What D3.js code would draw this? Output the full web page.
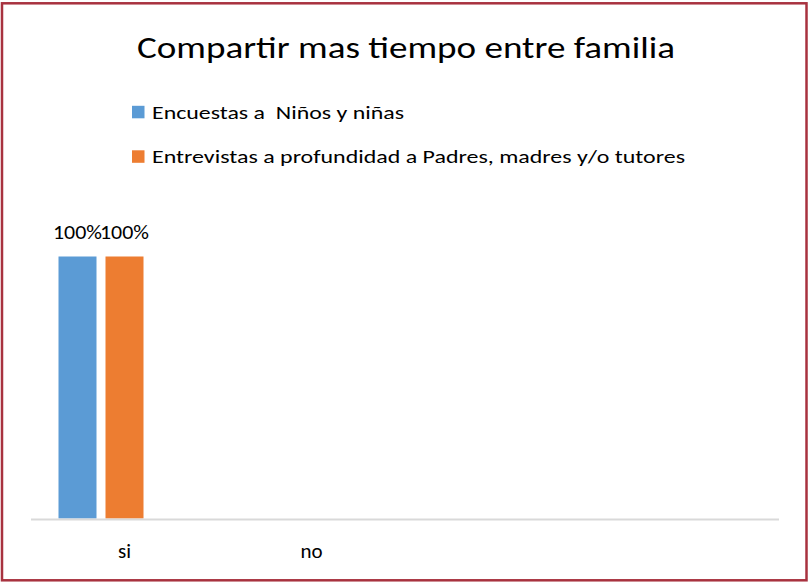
<!DOCTYPE html>
<html><head><meta charset="utf-8">
<script src="https://cdn.jsdelivr.net/npm/d3@7"></script>
<style>html,body{margin:0;padding:0;background:#fff}svg{display:block}</style>
</head><body>
<svg id="c" width="808" height="582"></svg>
<script>
const title = "Compartir mas tiempo entre familia";
const categories = ["si", "no", "", ""];
const seriesNames = ["Encuestas a  Niños y niñas", "Entrevistas a profundidad a Padres, madres y/o tutores"];
const seriesColors = ["#5B9BD5", "#ED7D31"];
const seriesValues = [
  [1.0, 0, null, null],
  [1.0, 0, null, null]
];
const valueLabels = [
  ["100%", "", "", ""],
  ["100%", "", "", ""]
];

const FONT = "Carlito, Calibri, Lato, sans-serif";
const svg = d3.select("#c");
svg.append("rect").attr("width", 808).attr("height", 582).attr("fill", "#fff");
svg.append("rect").attr("x", 2).attr("y", 3.3).attr("width", 804.5).attr("height", 577)
  .attr("fill", "none").attr("stroke", "#a8323f").attr("stroke-width", 2.5);

function fit(sel, w) {
  const n = sel.node();
  const len = n.getComputedTextLength();
  if (len > 0) sel.attr("textLength", w).attr("lengthAdjust", "spacingAndGlyphs");
}

const t = svg.append("text").attr("x", 406).attr("y", 57.5).attr("text-anchor", "middle")
  .attr("font-family", FONT).attr("font-size", 31).attr("fill", "#000").text(title);
fit(t, 538);

// legend
const legY = [105.8, 150.3];
const legW = [252, 533];
seriesNames.forEach((s, i) => {
  svg.append("rect").attr("x", 132).attr("y", legY[i]).attr("width", 12.5).attr("height", 12.5)
    .attr("fill", seriesColors[i]);
  const lt = svg.append("text").attr("x", 152).attr("y", legY[i] + 12.7)
    .attr("font-family", FONT).attr("font-size", 19).attr("fill", "#000")
    .style("white-space", "pre").attr("xml:space", "preserve").text(s);
  fit(lt, legW[i]);
});

// scales
const x0 = d3.scaleBand().domain(d3.range(categories.length)).range([31, 779]).padding(0);
const x1 = d3.scaleBand().domain(d3.range(3)).range([27.5, 159.5]).paddingInner(9 / 47).paddingOuter(0);
const y = d3.scaleLinear().domain([0, 1.2]).range([519.5, 519.5 - 263 * 1.2]);

seriesNames.forEach((s, si) => {
  seriesValues[si].forEach((v, ci) => {
    if (v == null || v === 0) return;
    const bx = x0(ci) + x1(si);
    svg.append("rect").attr("x", bx).attr("y", y(v)).attr("width", x1.bandwidth())
      .attr("height", y(0) - y(v) - 1).attr("fill", seriesColors[si]);
    const lt = svg.append("text").attr("x", bx + x1.bandwidth() / 2).attr("y", y(v) - 17.5)
      .attr("text-anchor", "middle").attr("font-family", FONT).attr("font-size", 20)
      .attr("fill", "#000").text(valueLabels[si][ci]);
    fit(lt, 49);
  });
});

// axis
const axis = d3.axisBottom(x0).tickSize(0).tickFormat(i => categories[i]);
const g = svg.append("g").attr("transform", "translate(0,519.5)").call(axis);
g.select(".domain").attr("stroke", "#d9d9d9").attr("stroke-width", 1.8).attr("d", "M31,0H779");
g.selectAll(".tick text").attr("font-family", FONT).attr("font-size", 21).attr("fill", "#000")
  .attr("dy", 0).attr("y", 38.5);
</script>
</body></html>
